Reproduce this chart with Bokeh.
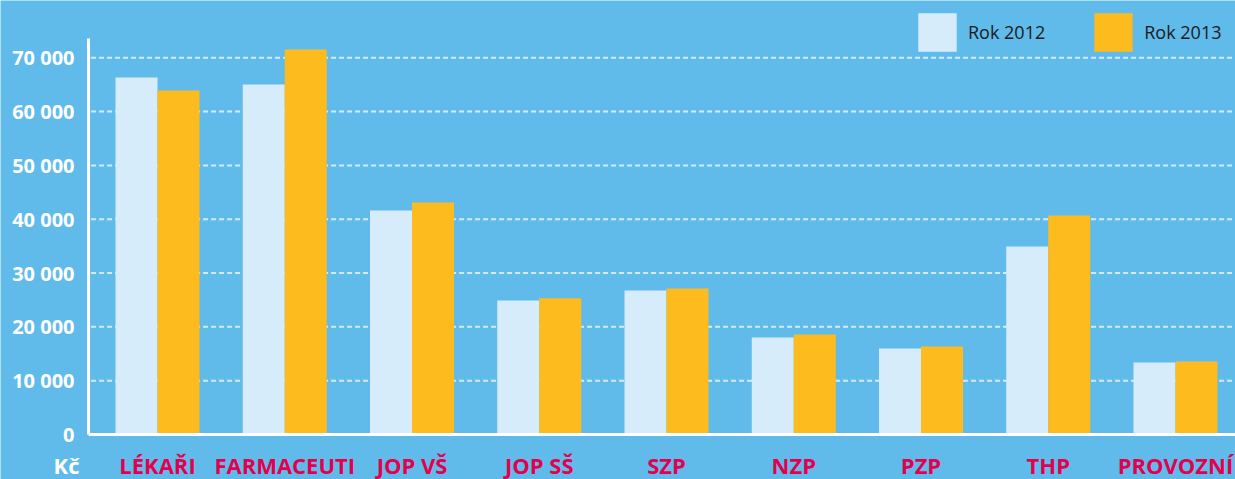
from bokeh.plotting import figure
from bokeh.models import ColumnDataSource, Legend, LegendItem, Range1d
from bokeh.core.properties import value
from bokeh.embed import file_html
from bokeh.resources import INLINE

categories = ["LÉKAŘI", "FARMACEUTI", "JOP VŠ", "JOP SŠ", "SZP", "NZP", "PZP", "THP", "PROVOZNÍ"]
rok2012 = [66340, 65040, 41630, 24900, 26760, 18030, 15980, 34940, 13380]
rok2013 = [63930, 71550, 43110, 25300, 27130, 18580, 16350, 40700, 13570]
y_ticks = [0, 10000, 20000, 30000, 40000, 50000, 60000, 70000]
y_tick_labels = ["0", "10 000", "20 000", "30 000", "40 000", "50 000", "60 000", "70 000"]
series_names = ["Rok 2012", "Rok 2013"]
unit_label = "Kč"

BG = "#60bbea"
LIGHT = "#d6ecfb"
ORANGE = "#fdbb1e"
CRIMSON = "#e4004e"
FONT = "Open Sans"

W, H = 1235, 479
X0, X1 = -1.2338, 8.4715          # canvas x-range in category units
Y0, Y1 = -8362, 80648             # canvas y-range in Kč
AXIS_X = -0.542                   # position of the value axis
AXIS_TOP = 73590                  # top end of the value axis line
LABEL_Y = -5600                   # vertical centre of category labels
UNIT_X = -0.715

idx = list(range(len(categories)))
src = ColumnDataSource(dict(
    x12=[i - 0.165 for i in idx],
    x13=[i + 0.165 for i in idx],
    xc=idx,
    y12=rok2012,
    y13=rok2013,
    cat=categories,
    lab_y=[LABEL_Y] * len(categories),
))
ticks_src = ColumnDataSource(dict(y=y_ticks, lab=y_tick_labels, x=[AXIS_X] * len(y_ticks)))
grid_src = ColumnDataSource(dict(y=y_ticks[1:], x0=[AXIS_X + 0.02] * (len(y_ticks) - 1),
                                 x1=[X1] * (len(y_ticks) - 1)))

p = figure(width=W, height=H, output_backend="svg", toolbar_location=None,
           x_range=Range1d(X0, X1), y_range=Range1d(Y0, Y1),
           min_border=0, min_border_left=0, min_border_right=0,
           min_border_top=0, min_border_bottom=0)
p.background_fill_color = BG
p.border_fill_color = BG
p.outline_line_color = None
p.axis.visible = False
p.grid.visible = False

# gridlines
p.segment(x0="x0", y0="y", x1="x1", y1="y", source=grid_src, line_color="#d3ebf9",
          line_width=2, line_dash="5 3")

r12 = p.vbar(x="x12", top="y12", width=0.33, source=src, fill_color=LIGHT, line_color=None)
r13 = p.vbar(x="x13", top="y13", width=0.33, source=src, fill_color=ORANGE, line_color=None)

# axis lines
p.segment(x0=[AXIS_X], y0=[0], x1=[AXIS_X], y1=[AXIS_TOP], line_color="white", line_width=3)
p.segment(x0=[AXIS_X], y0=[0], x1=[X1], y1=[0], line_color="white", line_width=3)

# value tick labels
p.text(x="x", y="y", text="lab", source=ticks_src, x_offset=-14, text_align="right",
       text_baseline="middle", text_color="white", text_font=value(FONT),
       text_font_style="bold", text_font_size="20px")

# category labels
p.text(x="xc", y="lab_y", text="cat", source=src, text_align="center",
       text_baseline="middle", text_color=CRIMSON, text_font=value(FONT),
       text_font_style="bold", text_font_size="22px")

p.text(x=[UNIT_X], y=[LABEL_Y], text=[unit_label], text_align="center",
       text_baseline="middle", text_color="white", text_font=value(FONT),
       text_font_style="bold", text_font_size="22px")

legend = Legend(items=[LegendItem(label=series_names[0], renderers=[r12]),
                       LegendItem(label=series_names[1], renderers=[r13])],
                orientation="horizontal", location=(913, 423),
                glyph_width=48, glyph_height=48, label_standoff=7, spacing=44,
                padding=0, margin=0, label_text_font=FONT, label_text_font_size="18px",
                label_text_color="#1a1a1a", background_fill_alpha=0, border_line_alpha=0,
                label_height=48)
p.add_layout(legend, "center")

open("out.html", "w").write(file_html(p, INLINE))
